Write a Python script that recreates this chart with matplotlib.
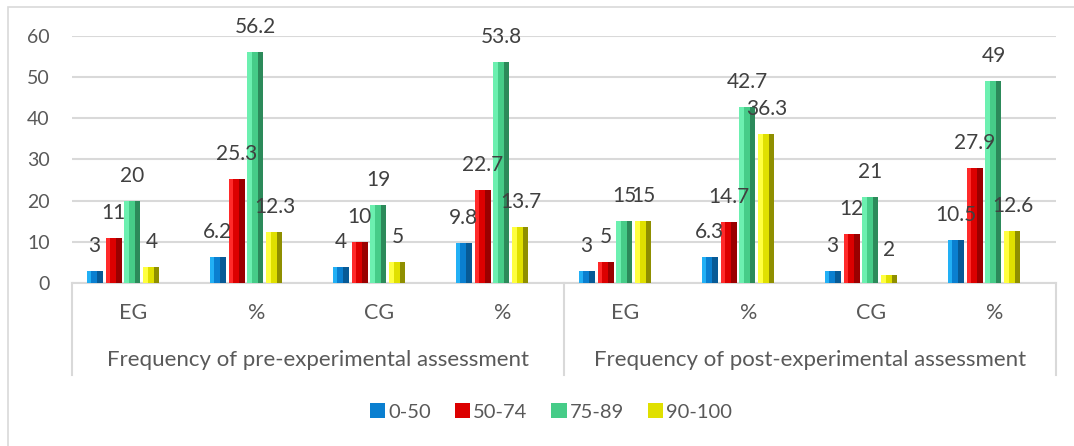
import numpy as np
from matplotlib import pyplot as plt
from matplotlib.patches import Rectangle
from matplotlib.transforms import blended_transform_factory

# categories and groups
categories = ["EG", "%", "CG", "%", "EG", "%", "CG", "%"]
groups = ["Frequency of pre-experimental assessment",
          "Frequency of post-experimental assessment"]
series_names = ["0-50", "50-74", "75-89", "90-100"]

# values per series, one entry per category
s_0_50 = [3, 6.2, 4, 9.8, 3, 6.3, 3, 10.5]
s_50_74 = [11, 25.3, 10, 22.7, 5, 14.7, 12, 27.9]
s_75_89 = [20, 56.2, 19, 53.8, 15, 42.7, 21, 49]
s_90_100 = [4, 12.3, 5, 13.7, 15, 36.3, 2, 12.6]

yticks = [0, 10, 20, 30, 40, 50, 60]

# (face, light edge, dark edge)
colors = [
    ("#0a7fd0", "#22b0f5", "#075a96"),
    ("#dc0000", "#ff2a2a", "#9a0000"),
    ("#46cc88", "#6cf0b0", "#2c8a5a"),
    ("#e0e000", "#ffff40", "#8f8f00"),
]


def main():
    plt.rcParams["font.family"] = ["Lato", "DejaVu Sans"]
    fig = plt.figure(figsize=(10.74, 4.46), dpi=100)
    ax = fig.add_axes([0.0670, 0.3655, 0.9162, 0.5538])

    x = np.arange(len(categories))
    pitch = 0.154
    width = 0.13
    shift = -0.085
    all_series = [s_0_50, s_50_74, s_75_89, s_90_100]

    handles = []
    for i, vals in enumerate(all_series):
        face, light, dark = colors[i]
        xc = x + shift + (i - 1.5) * pitch
        h = ax.bar(xc, vals, width, color=face, label=series_names[i], zorder=3)
        handles.append(h)
        # bevel look: light left strip, dark right strip
        ax.bar(xc - width * 0.36, vals, width * 0.28, color=light, zorder=3)
        ax.bar(xc + width * 0.34, vals, width * 0.32, color=dark, zorder=3)
        for xi, v in zip(xc, vals):
            ax.annotate(f"{v:g}", (xi, v), xytext=(0, 18), textcoords="offset points",
                        ha="center", va="center", fontsize=15, color="#404040",
                        zorder=5, annotation_clip=False)

    ax.set_xlim(-0.5, len(categories) - 0.5)
    ax.set_ylim(0, 60)
    ax.set_yticks(yticks)
    ax.set_xticks([])
    ax.tick_params(axis="y", length=0, pad=16, labelsize=14, labelcolor="#595959")
    ax.grid(axis="y", color="#d9d9d9", linewidth=1.5, zorder=0)
    for side in ["left", "right", "top"]:
        ax.spines[side].set_visible(False)
    ax.spines["bottom"].set_color("#d9d9d9")
    ax.spines["bottom"].set_linewidth(1.5)

    trans = blended_transform_factory(ax.transData, ax.transAxes)
    for xi, cat in zip(x, categories):
        ax.text(xi, -0.1215, cat, transform=trans, ha="center", va="center",
                fontsize=15.5, color="#595959")
    for gi, name in enumerate(groups):
        ax.text(gi * 4 + 1.5, -0.312, name, transform=trans, ha="center", va="center",
                fontsize=16, color="#595959")
    for xs in [-0.5, 3.5, 7.5]:
        ax.plot([xs, xs], [0, -0.372], transform=trans, color="#d9d9d9",
                linewidth=1.5, clip_on=False)

    fig.legend(handles=handles, loc="center", bbox_to_anchor=(0.513, 0.076), ncol=4,
               frameon=False, fontsize=14.5, handlelength=0.75, handleheight=0.75,
               handletextpad=0.15, columnspacing=1.2, labelcolor="#595959")

    fig.patches.append(Rectangle((8 / 1074, -0.1), 1.2, 1 - 7 / 446 + 0.1,
                                 transform=fig.transFigure, fill=False,
                                 edgecolor="#d9d9d9", linewidth=1.2))

    fig.savefig("out.png", dpi=100)


if __name__ == "__main__":
    main()
